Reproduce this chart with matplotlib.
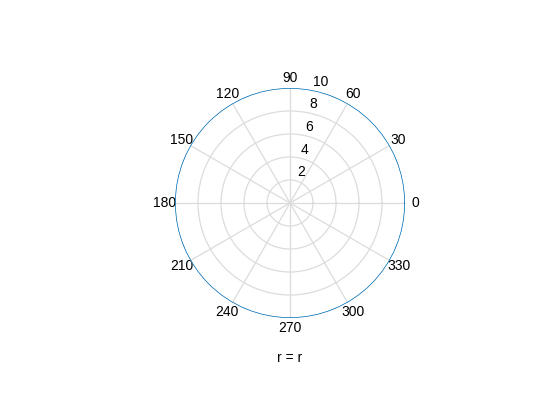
import numpy as np
import matplotlib
matplotlib.use("Agg")
import matplotlib.pyplot as plt
from matplotlib.transforms import ScaledTranslation

plt.rcParams['font.family'] = ['Liberation Sans', 'DejaVu Sans']

# data: constant radius r = 10 all the way round
theta_deg = [0, 90, 180, 270, 360]
r_vals = [10, 10, 10, 10, 10]

r_ticks = [2, 4, 6, 8, 10]
theta_ticks = [0, 30, 60, 90, 120, 150, 180, 210, 240, 270, 300, 330]

fig = plt.figure(figsize=(5.6, 4.2), dpi=100)
ax = fig.add_axes([175 / 560, 1 - 318 / 420, 230 / 560, 230 / 420], projection='polar')

line, = ax.plot(np.deg2rad(theta_deg), r_vals, color='#0072BD', lw=1.0, zorder=5)
# draw segments as arcs in polar space
line.get_path()._interpolation_steps = 90

ax.set_ylim(0, 10)
ax.set_rgrids(r_ticks, labels=[str(v) for v in r_ticks], fontsize=10)
ax.set_thetagrids(theta_ticks, labels=[str(v) for v in theta_ticks], fontsize=10)
ax.set_rlabel_position(80)
ax.grid(True, color='#dcdcdc', lw=0.9)
ax.spines['polar'].set_visible(False)
ax.tick_params(axis='x', pad=-3, colors='black')
ax.tick_params(axis='y', colors='black')

fig.canvas.draw()
shift = ScaledTranslation(3 / 100, 1 / 100, fig.dpi_scale_trans)
for lab in ax.get_yticklabels():
    lab.set_transform(lab.get_transform() + shift)

fig.text(290 / 560, 1 - 358 / 420, 'r = r', ha='center', va='center', fontsize=10)

fig.savefig('out.png', dpi=100)
